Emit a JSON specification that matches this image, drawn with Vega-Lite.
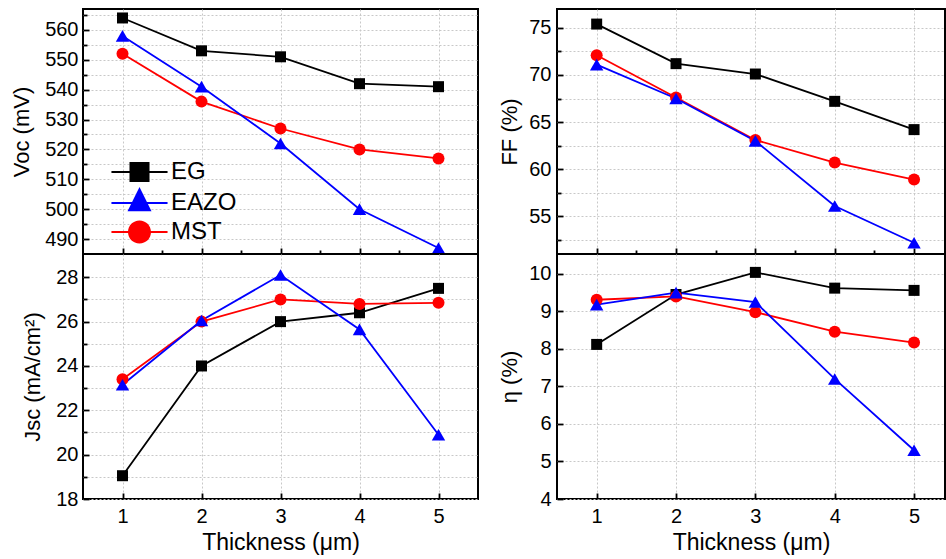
{
  "$schema": "https://vega.github.io/schema/vega-lite/v6.json",
  "padding": {"left": 9, "top": 8, "right": 0, "bottom": 0},
  "background": "white",
  "config": {
    "view": {"stroke": "black", "strokeWidth": 2},
    "font": "Liberation Sans",
    "axis": {
      "labelFont": "Liberation Sans", "labelFontSize": 20, "labelColor": "black",
      "titleFont": "Liberation Sans", "titleFontSize": 22, "titleFontWeight": "normal", "titleColor": "black",
      "tickColor": "black", "tickWidth": 1.8, "domain": false,
      "grid": true, "gridColor": "#c8c8c8", "gridDash": [2, 2], "gridWidth": 1
    }
  },
  "datasets": {
    "d": [
      {"m": "Voc", "s": "EG", "t": 1, "v": 564}, {"m": "Voc", "s": "EG", "t": 2, "v": 553}, {"m": "Voc", "s": "EG", "t": 3, "v": 551}, {"m": "Voc", "s": "EG", "t": 4, "v": 542}, {"m": "Voc", "s": "EG", "t": 5, "v": 541},
      {"m": "Voc", "s": "MST", "t": 1, "v": 552}, {"m": "Voc", "s": "MST", "t": 2, "v": 536}, {"m": "Voc", "s": "MST", "t": 3, "v": 527}, {"m": "Voc", "s": "MST", "t": 4, "v": 520}, {"m": "Voc", "s": "MST", "t": 5, "v": 517},
      {"m": "Voc", "s": "EAZO", "t": 1, "v": 558}, {"m": "Voc", "s": "EAZO", "t": 2, "v": 541}, {"m": "Voc", "s": "EAZO", "t": 3, "v": 522}, {"m": "Voc", "s": "EAZO", "t": 4, "v": 500}, {"m": "Voc", "s": "EAZO", "t": 5, "v": 487},
      {"m": "Jsc", "s": "EG", "t": 1, "v": 19.05}, {"m": "Jsc", "s": "EG", "t": 2, "v": 24.0}, {"m": "Jsc", "s": "EG", "t": 3, "v": 26.0}, {"m": "Jsc", "s": "EG", "t": 4, "v": 26.4}, {"m": "Jsc", "s": "EG", "t": 5, "v": 27.5},
      {"m": "Jsc", "s": "MST", "t": 1, "v": 23.4}, {"m": "Jsc", "s": "MST", "t": 2, "v": 26.0}, {"m": "Jsc", "s": "MST", "t": 3, "v": 27.0}, {"m": "Jsc", "s": "MST", "t": 4, "v": 26.8}, {"m": "Jsc", "s": "MST", "t": 5, "v": 26.85},
      {"m": "Jsc", "s": "EAZO", "t": 1, "v": 23.15}, {"m": "Jsc", "s": "EAZO", "t": 2, "v": 26.05}, {"m": "Jsc", "s": "EAZO", "t": 3, "v": 28.1}, {"m": "Jsc", "s": "EAZO", "t": 4, "v": 25.65}, {"m": "Jsc", "s": "EAZO", "t": 5, "v": 20.9},
      {"m": "FF", "s": "EG", "t": 1, "v": 75.4}, {"m": "FF", "s": "EG", "t": 2, "v": 71.2}, {"m": "FF", "s": "EG", "t": 3, "v": 70.1}, {"m": "FF", "s": "EG", "t": 4, "v": 67.2}, {"m": "FF", "s": "EG", "t": 5, "v": 64.2},
      {"m": "FF", "s": "MST", "t": 1, "v": 72.1}, {"m": "FF", "s": "MST", "t": 2, "v": 67.6}, {"m": "FF", "s": "MST", "t": 3, "v": 63.1}, {"m": "FF", "s": "MST", "t": 4, "v": 60.7}, {"m": "FF", "s": "MST", "t": 5, "v": 58.9},
      {"m": "FF", "s": "EAZO", "t": 1, "v": 71.1}, {"m": "FF", "s": "EAZO", "t": 2, "v": 67.5}, {"m": "FF", "s": "EAZO", "t": 3, "v": 63.0}, {"m": "FF", "s": "EAZO", "t": 4, "v": 56.1}, {"m": "FF", "s": "EAZO", "t": 5, "v": 52.2},
      {"m": "eta", "s": "EG", "t": 1, "v": 8.12}, {"m": "eta", "s": "EG", "t": 2, "v": 9.45}, {"m": "eta", "s": "EG", "t": 3, "v": 10.04}, {"m": "eta", "s": "EG", "t": 4, "v": 9.62}, {"m": "eta", "s": "EG", "t": 5, "v": 9.56},
      {"m": "eta", "s": "MST", "t": 1, "v": 9.31}, {"m": "eta", "s": "MST", "t": 2, "v": 9.4}, {"m": "eta", "s": "MST", "t": 3, "v": 8.98}, {"m": "eta", "s": "MST", "t": 4, "v": 8.46}, {"m": "eta", "s": "MST", "t": 5, "v": 8.17},
      {"m": "eta", "s": "EAZO", "t": 1, "v": 9.18}, {"m": "eta", "s": "EAZO", "t": 2, "v": 9.5}, {"m": "eta", "s": "EAZO", "t": 3, "v": 9.25}, {"m": "eta", "s": "EAZO", "t": 4, "v": 7.2}, {"m": "eta", "s": "EAZO", "t": 5, "v": 5.3}
    ]
  },
  "resolve": {"scale": {"color": "independent", "shape": "independent"}},
  "spacing": 18,
  "hconcat": [
    {
      "vconcat": [
        {
          "width": 395, "height": 245,
          "data": {"name": "d"},
          "transform": [{"filter": "datum.m == 'Voc'"}],
          "encoding": {
            "x": {"field": "t", "type": "quantitative", "scale": {"domain": [0.5, 5.5], "nice": false, "zero": false},
                  "axis": {"values": [1, 1.5, 2, 2.5, 3, 3.5, 4, 4.5, 5], "labels": false, "title": null,
                           "tickSize": {"condition": {"test": "datum.value % 1 != 0", "value": -4}, "value": -6},
                           "gridOpacity": {"condition": {"test": "datum.value % 1 != 0", "value": 0}, "value": 1}}},
            "y": {"field": "v", "type": "quantitative", "scale": {"domain": [485, 567], "nice": false, "zero": false},
                  "axis": {"title": "Voc (mV)", "values": [490, 495, 500, 505, 510, 515, 520, 525, 530, 535, 540, 545, 550, 555, 560, 565],
                           "labelExpr": "datum.value % 10 == 0 ? datum.label : ''", "format": "d", "labelPadding": 11, "titlePadding": 11,
                           "tickSize": {"condition": {"test": "datum.value % 10 != 0", "value": -4}, "value": -6}}},
            "color": {"field": "s", "type": "nominal", "scale": {"domain": ["EG", "EAZO", "MST"], "range": ["#000000", "#0000ff", "#ff0000"]},
                      "legend": {"orient": "none", "legendX": 41.5, "legendY": 148, "title": null, "padding": 0,
                                 "labelFont": "Liberation Sans", "labelFontSize": 24, "labelColor": "black", "labelLimit": 0,
                                 "symbolSize": 900, "symbolOpacity": 1, "symbolStrokeWidth": 0, "labelOffset": 16.5, "rowPadding": 2}}
          },
          "layer": [
            {"mark": {"type": "line", "strokeWidth": 1.8}},
            {"transform": [{"filter": "datum.s == 'EG'"}], "mark": {"type": "point", "filled": true, "opacity": 1, "shape": "square", "size": 121}},
            {"transform": [{"filter": "datum.s == 'MST'"}], "mark": {"type": "point", "filled": true, "opacity": 1, "shape": "circle", "size": 144}},
            {"transform": [{"filter": "datum.s == 'EAZO'"}], "mark": {"type": "point", "filled": true, "opacity": 1, "shape": "triangle-up", "size": 180}},
            {"mark": {"type": "point", "filled": true, "opacity": 0, "size": 10},
             "encoding": {"shape": {"field": "s", "type": "nominal",
               "scale": {"domain": ["EG", "EAZO", "MST"], "range": [
                 "M-1.87,-0.067H1.87V0.067H-1.87Z M-0.667,-0.667H0.667V0.667H-0.667Z",
                 "M-1.87,-0.067H1.87V0.067H-1.87Z M0,-1.07L0.8,0.55H-0.8Z",
                 "M-1.87,-0.067H1.87V0.067H-1.87Z M-0.767,0A0.767,0.767 0 1,1 0.767,0A0.767,0.767 0 1,1 -0.767,0Z"]},
               "legend": {"orient": "none", "legendX": 41.5, "legendY": 148, "title": null, "padding": 0,
                          "labelFont": "Liberation Sans", "labelFontSize": 24, "labelColor": "black", "labelLimit": 0,
                          "symbolSize": 900, "symbolOpacity": 1, "symbolStrokeWidth": 0, "labelOffset": 16.5, "rowPadding": 2}}}}
          ]
        },
        {
          "width": 395, "height": 245,
          "data": {"name": "d"},
          "transform": [{"filter": "datum.m == 'Jsc'"}],
          "encoding": {
            "x": {"field": "t", "type": "quantitative", "scale": {"domain": [0.5, 5.5], "nice": false, "zero": false},
                  "axis": {"values": [1, 1.5, 2, 2.5, 3, 3.5, 4, 4.5, 5], "title": "Thickness (μm)", "titleFontSize": 23,
                           "labelExpr": "datum.value % 1 == 0 ? datum.label : ''", "format": "d", "labelPadding": 13, "titlePadding": 5,
                           "tickSize": {"condition": {"test": "datum.value % 1 != 0", "value": -4}, "value": -6},
                           "gridOpacity": {"condition": {"test": "datum.value % 1 != 0", "value": 0}, "value": 1}}},
            "y": {"field": "v", "type": "quantitative", "scale": {"domain": [18, 29.05], "nice": false, "zero": false},
                  "axis": {"title": "Jsc (mA/cm²)", "values": [18, 19, 20, 21, 22, 23, 24, 25, 26, 27, 28],
                           "labelExpr": "datum.value % 2 == 0 ? datum.label : ''", "format": "d", "labelPadding": 11, "titlePadding": 11,
                           "tickSize": {"condition": {"test": "datum.value % 2 != 0", "value": -4}, "value": -6}}},
            "color": {"field": "s", "type": "nominal", "scale": {"domain": ["EG", "EAZO", "MST"], "range": ["#000000", "#0000ff", "#ff0000"]}, "legend": null}
          },
          "layer": [
            {"mark": {"type": "line", "strokeWidth": 1.8}},
            {"transform": [{"filter": "datum.s == 'EG'"}], "mark": {"type": "point", "filled": true, "opacity": 1, "shape": "square", "size": 121}},
            {"transform": [{"filter": "datum.s == 'MST'"}], "mark": {"type": "point", "filled": true, "opacity": 1, "shape": "circle", "size": 144}},
            {"transform": [{"filter": "datum.s == 'EAZO'"}], "mark": {"type": "point", "filled": true, "opacity": 1, "shape": "triangle-up", "size": 180}}
          ]
        }
      ],
      "spacing": 0,
      "bounds": "flush",
      "resolve": {"scale": {"color": "independent", "shape": "independent"}}
    },
    {
      "vconcat": [
        {
          "width": 388, "height": 245,
          "data": {"name": "d"},
          "transform": [{"filter": "datum.m == 'FF'"}],
          "encoding": {
            "x": {"field": "t", "type": "quantitative", "scale": {"domain": [0.5, 5.39], "nice": false, "zero": false},
                  "axis": {"values": [1, 1.5, 2, 2.5, 3, 3.5, 4, 4.5, 5], "labels": false, "title": null,
                           "tickSize": {"condition": {"test": "datum.value % 1 != 0", "value": -4}, "value": -6},
                           "gridOpacity": {"condition": {"test": "datum.value % 1 != 0", "value": 0}, "value": 1}}},
            "y": {"field": "v", "type": "quantitative", "scale": {"domain": [51, 77], "nice": false, "zero": false},
                  "axis": {"title": "FF (%)", "values": [52.5, 55, 57.5, 60, 62.5, 65, 67.5, 70, 72.5, 75],
                           "labelExpr": "datum.value % 5 == 0 ? datum.label : ''", "format": "d", "labelPadding": 12, "titlePadding": 7,
                           "tickSize": {"condition": {"test": "datum.value % 5 != 0", "value": -4}, "value": -6}}},
            "color": {"field": "s", "type": "nominal", "scale": {"domain": ["EG", "EAZO", "MST"], "range": ["#000000", "#0000ff", "#ff0000"]}, "legend": null}
          },
          "layer": [
            {"mark": {"type": "line", "strokeWidth": 1.8}},
            {"transform": [{"filter": "datum.s == 'EG'"}], "mark": {"type": "point", "filled": true, "opacity": 1, "shape": "square", "size": 121}},
            {"transform": [{"filter": "datum.s == 'MST'"}], "mark": {"type": "point", "filled": true, "opacity": 1, "shape": "circle", "size": 144}},
            {"transform": [{"filter": "datum.s == 'EAZO'"}], "mark": {"type": "point", "filled": true, "opacity": 1, "shape": "triangle-up", "size": 180}}
          ]
        },
        {
          "width": 388, "height": 245,
          "data": {"name": "d"},
          "transform": [{"filter": "datum.m == 'eta'"}],
          "encoding": {
            "x": {"field": "t", "type": "quantitative", "scale": {"domain": [0.5, 5.39], "nice": false, "zero": false},
                  "axis": {"values": [1, 1.5, 2, 2.5, 3, 3.5, 4, 4.5, 5], "title": "Thickness (μm)", "titleFontSize": 23,
                           "labelExpr": "datum.value % 1 == 0 ? datum.label : ''", "format": "d", "labelPadding": 13, "titlePadding": 5,
                           "tickSize": {"condition": {"test": "datum.value % 1 != 0", "value": -4}, "value": -6},
                           "gridOpacity": {"condition": {"test": "datum.value % 1 != 0", "value": 0}, "value": 1}}},
            "y": {"field": "v", "type": "quantitative", "scale": {"domain": [4, 10.53], "nice": false, "zero": false},
                  "axis": {"title": "η (%)", "values": [4, 4.5, 5, 5.5, 6, 6.5, 7, 7.5, 8, 8.5, 9, 9.5, 10],
                           "labelExpr": "datum.value % 1 == 0 ? datum.label : ''", "format": "d", "labelPadding": 12, "titlePadding": 7,
                           "tickSize": {"condition": {"test": "datum.value % 1 != 0", "value": -4}, "value": -6}}},
            "color": {"field": "s", "type": "nominal", "scale": {"domain": ["EG", "EAZO", "MST"], "range": ["#000000", "#0000ff", "#ff0000"]}, "legend": null}
          },
          "layer": [
            {"mark": {"type": "line", "strokeWidth": 1.8}},
            {"transform": [{"filter": "datum.s == 'EG'"}], "mark": {"type": "point", "filled": true, "opacity": 1, "shape": "square", "size": 121}},
            {"transform": [{"filter": "datum.s == 'MST'"}], "mark": {"type": "point", "filled": true, "opacity": 1, "shape": "circle", "size": 144}},
            {"transform": [{"filter": "datum.s == 'EAZO'"}], "mark": {"type": "point", "filled": true, "opacity": 1, "shape": "triangle-up", "size": 180}}
          ]
        }
      ],
      "spacing": 0,
      "bounds": "flush",
      "resolve": {"scale": {"color": "independent", "shape": "independent"}}
    }
  ]
}
